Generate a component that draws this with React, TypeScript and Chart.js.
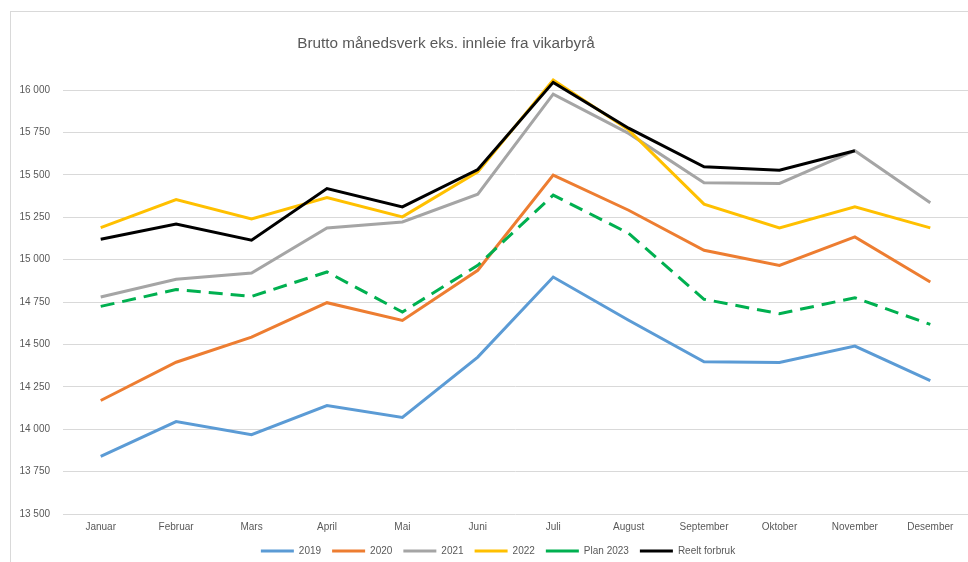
import React, { useEffect, useRef } from "react";
import { Chart, registerables } from "chart.js";

Chart.register(...registerables);

const months = ["Januar", "Februar", "Mars", "April", "Mai", "Juni", "Juli", "August", "September", "Oktober", "November", "Desember"];
const seriesNames = ["2019", "2020", "2021", "2022", "Plan 2023", "Reelt forbruk"];
const v2019 = [13840, 14045, 13968, 14139, 14069, 14425, 14897, 14642, 14397, 14393, 14490, 14287];
const v2020 = [14169, 14395, 14543, 14746, 14641, 14937, 15498, 15291, 15055, 14966, 15134, 14868];
const v2021 = [14779, 14884, 14921, 15187, 15222, 15386, 15976, 15744, 15453, 15449, 15642, 15335];
const v2022 = [15189, 15354, 15240, 15366, 15252, 15518, 16059, 15765, 15327, 15187, 15311, 15187];
const plan2023 = [14724, 14823, 14783, 14927, 14691, 14966, 15380, 15155, 14766, 14681, 14775, 14618];
const reelt = [15120, 15209, 15114, 15419, 15311, 15531, 16045, 15775, 15547, 15527, 15642, null];
const yMin = 13500;
const yMax = 16000;
const yStep = 250;
const titleText = "Brutto månedsverk eks. innleie fra vikarbyrå";

const colors = ["#5B9BD5", "#ED7D31", "#A5A5A5", "#FFC000", "#00B050", "#000000"];
const seriesData = [v2019, v2020, v2021, v2022, plan2023, reelt];
const FONT = "'Liberation Sans', Arial, sans-serif";
const TEXT = "#595959";

function fmt(v: number) {
  return String(v).replace(/\B(?=(\d{3})+(?!\d))/g, " ");
}

const titlePlugin = {
  id: "customTitle",
  afterLayout(chart: any) {
    const lg = chart.legend;
    if (lg) {
      lg.left += 9;
      lg.right += 9;
    }
  },
  afterDraw(chart: any) {
    const ctx = chart.ctx;
    ctx.save();
    ctx.font = `15.3px ${FONT}`;
    ctx.fillStyle = TEXT;
    ctx.textAlign = "center";
    ctx.textBaseline = "middle";
    ctx.fillText(titleText, 446, 44);
    ctx.restore();
  },
};

export default function App() {
  const ref = useRef<HTMLCanvasElement | null>(null);
  useEffect(() => {
    if (!ref.current) return;
    const chart = new Chart(ref.current, {
      type: "line",
      data: {
        labels: months,
        datasets: seriesNames.map((name, i) => ({
          label: name,
          data: seriesData[i],
          borderColor: colors[i],
          backgroundColor: colors[i],
          borderWidth: 3,
          borderDash: i === 4 ? [14, 8] : [],
          pointRadius: 0,
          pointHoverRadius: 0,
          tension: 0,
          fill: false,
          clip: false as any,
          order: 5 - i,
        })),
      },
      options: {
        animation: false,
        responsive: false,
        layout: { padding: { left: 10, right: 0, top: 90, bottom: 4 } },
        plugins: {
          title: { display: false },
          tooltip: { enabled: false },
          legend: {
            position: "bottom",
            labels: {
              usePointStyle: true,
              pointStyle: "line",
              pointStyleWidth: 33,
              boxWidth: 33,
              padding: 11,
              color: TEXT,
              font: { family: FONT, size: 10 },
              sort: (a: any, b: any) => a.datasetIndex - b.datasetIndex,
            },
          },
        },
        scales: {
          x: {
            offset: true,
            grid: { display: false, drawTicks: false },
            border: { display: false },
            ticks: { color: TEXT, font: { family: FONT, size: 10 }, padding: 7, maxRotation: 0, autoSkip: false },
            afterFit: (scale: any) => {
              scale.height = 21;
            },
          },
          y: {
            min: yMin,
            max: yMax,
            grid: { color: "#d9d9d9", lineWidth: 1, drawTicks: false },
            border: { display: false },
            ticks: {
              stepSize: yStep,
              color: TEXT,
              font: { family: FONT, size: 10 },
              padding: 13,
              callback: (v: any) => fmt(Number(v)),
            },
            afterFit: (scale: any) => {
              scale.width = 53;
            },
          },
        },
      },
      plugins: [titlePlugin],
    });
    return () => chart.destroy();
  }, []);

  return (
    <div>
      <div
        style={{
          position: "fixed",
          left: 10,
          top: 11,
          width: 990,
          height: 580,
          border: "1px solid #d9d9d9",
          boxSizing: "border-box",
        }}
      />
      <canvas
        ref={ref}
        width={968}
        height={570}
        style={{ position: "fixed", left: 0, top: 0, width: 968, height: 570 }}
      />
    </div>
  );
}
